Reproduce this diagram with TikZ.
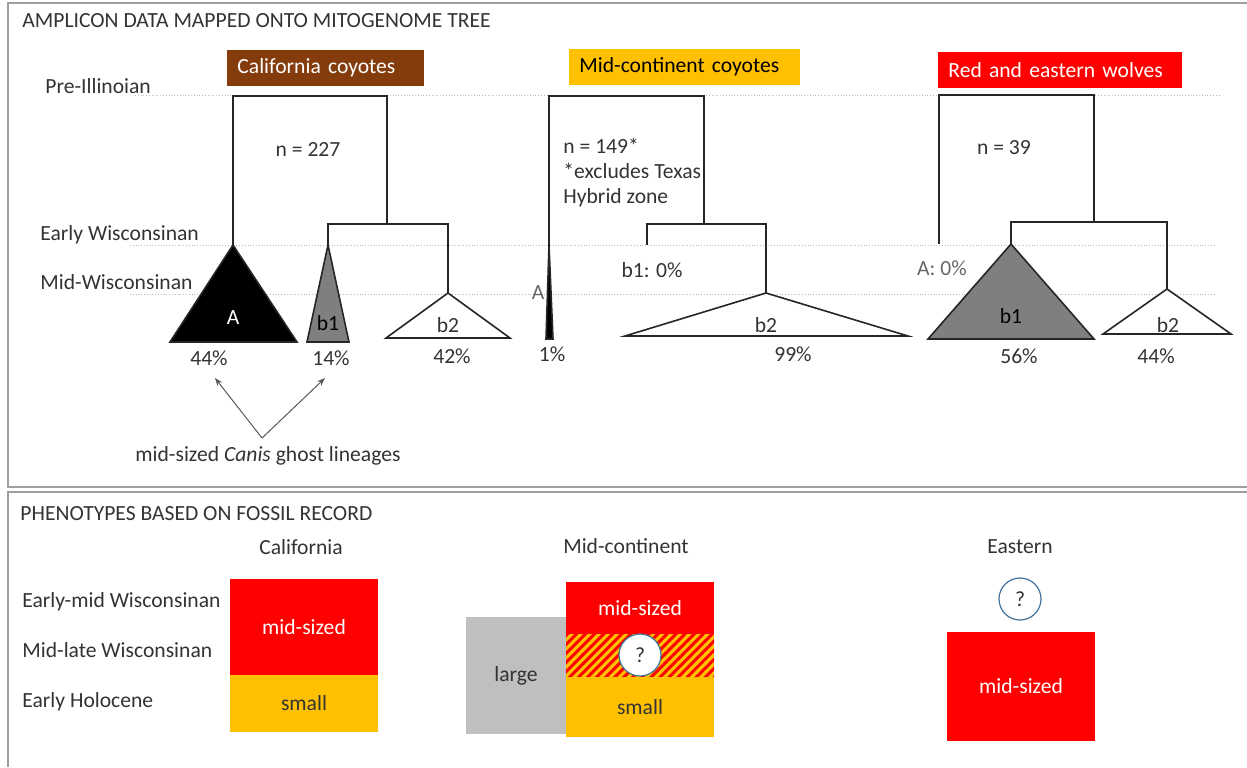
\documentclass[tikz,border=0pt]{standalone}
\usepackage{fontspec}
\setmainfont{Carlito}
\usepackage{xcolor}
\usepackage{tikz}
\usetikzlibrary{positioning, arrows.meta, patterns.meta}
\definecolor{brownhead}{HTML}{843C0C}
\definecolor{goldbox}{HTML}{FFC000}
\definecolor{redbox}{HTML}{FF0000}
\definecolor{largebox}{HTML}{BFBFBF}
\definecolor{cladegray}{HTML}{7F7F7F}
\definecolor{ringblue}{HTML}{41719C}
\definecolor{txt}{HTML}{333333}

\begin{document}
\begin{tikzpicture}[x=0.5pt,y=-0.5pt,font=\fontsize{10.8}{12.5}\selectfont]
					\tikzstyle{panel}=[draw=gray!75,line width=1.1pt]
					\tikzstyle{era}=[draw=gray!55,densely dotted,line width=0.4pt]
					\tikzstyle{branch}=[draw=black!85,line width=0.8pt]
					\tikzstyle{label}=[text=txt,inner sep=0pt]
					\tikzstyle{header}=[inner xsep=5pt,inner ysep=0pt,minimum height=18pt,align=left,anchor=west]
					\tikzstyle{sizebox}=[inner sep=0pt,text=txt]
					\tikzstyle{ring}=[circle,draw=ringblue,fill=white,line width=0.6pt,minimum size=21pt,inner sep=0pt,text=txt]
					\tikzstyle{ghostarrow}=[draw=gray!70!black,line width=0.5pt,-{Stealth[length=4pt,width=3pt]}]
					\useasboundingbox (0,0) rectangle (1247,767);

					\draw[panel] (1247,3) -- (8,3) -- (8,487) -- (1247,487);
					\draw[panel] (1247,492) -- (8,492) -- (8,767);
					\node[label,anchor=west](treetitle) at (22,21) {AMPLICON DATA MAPPED ONTO MITOGENOME TREE};
					\node[label,anchor=west](fossiltitle) at (20,514) {PHENOTYPES BASED ON FOSSIL RECORD};

					\draw[era] (135,95) -- (1220,95);
					\draw[era] (130,245) -- (1215,245);
					\draw[era] (130,294) -- (1215,294);
					\node[label,anchor=west](preill) at (45,86) {Pre-Illinoian};
					\node[label,anchor=west](earlywis) at (40,235) {Early Wisconsinan};
					\node[label,anchor=west](midwis) at (40,282) {Mid-Wisconsinan};

					\node[header,fill=brownhead,text=white,text width=88.5pt](calhead) at (227,68) {California coyotes};
					\node[header,fill=goldbox,text=black,text width=105.5pt](mchead) at (569,67) {Mid-continent coyotes};
					\node[header,fill=redbox,text=white,text width=112pt](redhead) at (938,70) {Red and eastern wolves};

					\coordinate (calTop) at (310,96);
					\coordinate (calSub) at (387,224);
					\coordinate (calA) at (233,245);
					\coordinate (calB1) at (328,245);
					\coordinate (calB2) at (448,293);
					\draw[branch] (calA) |- (calTop) -| (calSub);
					\draw[branch] (calB1) |- (calSub) -| (calB2);
					\filldraw[branch,fill=black] (calA) -- (170,342) -- (297,342) -- cycle;
					\filldraw[branch,fill=cladegray] (calB1) -- (307,342) -- (349,342) -- cycle;
					\filldraw[branch,fill=white] (calB2) -- (386,338) -- (510,338) -- cycle;
					\node[label,text=white](calAlab) at (233,318) {A};
					\node[label,text=black](calB1lab) at (328,323) {b1};
					\node[label](calB2lab) at (448,325) {b2};
					\node[label](calApc) at (209,358) {44\%};
					\node[label](calB1pc) at (331,358) {14\%};
					\node[label](calB2pc) at (452,356) {42\%};
					\node[label](caln) at (308,149) {n = 227};

					\node[label](ghost) at (268,456) {mid-sized \textit{Canis} ghost lineages};
					\coordinate (ghostfoot) at (262,438);
					\coordinate (ghostA) at (215,378);
					\coordinate (ghostB) at (325,378);
					\draw[ghostarrow] (ghostfoot) -- (ghostA);
					\draw[ghostarrow] (ghostfoot) -- (ghostB);

					\coordinate (mcTop) at (630,96);
					\coordinate (mcSub) at (704,224);
					\coordinate (mcA) at (549,245);
					\coordinate (mcB1) at (647,245);
					\coordinate (mcB2) at (766,293);
					\draw[branch] (mcA) |- (mcTop) -| (mcSub);
					\draw[branch] (mcB1) |- (mcSub) -| (mcB2);
					\filldraw[branch,fill=black] (mcA) -- (546,339) -- (553,339) -- cycle;
					\filldraw[branch,fill=white] (mcB2) -- (625,336) -- (908,336) -- cycle;
					\node[label,text=gray!80!black](mcAlab) at (538,293) {A};
					\node[label](mcB1lab) at (652,270) {b1: 0\%};
					\node[label](mcB2lab) at (766,325) {b2};
					\node[label](mcApc) at (552,354) {1\%};
					\node[label](mcB2pc) at (793,354) {99\%};
					\node[label,anchor=west,align=left](mcn) at (563,173) {n = 149*\\[0pt]*excludes Texas\\[0pt]Hybrid zone};

					\coordinate (redTop) at (1015,95);
					\coordinate (redSub) at (1094,222);
					\coordinate (redA) at (939,244);
					\coordinate (redB1) at (1011,244);
					\coordinate (redB2) at (1167,289);
					\draw[branch] (redA) |- (redTop) -| (redSub);
					\draw[branch] (redB1) |- (redSub) -| (redB2);
					\filldraw[branch,fill=cladegray] (redB1) -- (928,339) -- (1094,339) -- cycle;
					\filldraw[branch,fill=white] (redB2) -- (1103,334) -- (1231,334) -- cycle;
					\node[label,text=gray!80!black](redAlab) at (942,268) {A: 0\%};
					\node[label,text=black](redB1lab) at (1011,316) {b1};
					\node[label](redB2lab) at (1168,325) {b2};
					\node[label](redB1pc) at (1019,356) {56\%};
					\node[label](redB2pc) at (1156,356) {44\%};
					\node[label](redn) at (1004,148) {n = 39};

					\node[label](calcol) at (301,547) {California};
					\node[label](mccol) at (626,546) {Mid-continent};
					\node[label](eastcol) at (1020,547) {Eastern};
					\node[label,anchor=west](earlymid) at (22,602) {Early-mid Wisconsinan};
					\node[label,anchor=west](midlate) at (22,650) {Mid-late Wisconsinan};
					\node[label,anchor=west](holocene) at (22,702) {Early Holocene};

					\node[sizebox,fill=redbox,text=white,minimum width=74pt,minimum height=48pt](calmid) at (304,627) {mid-sized};
					\node[sizebox,fill=goldbox,minimum width=74pt,minimum height=28.5pt](calsmall) at (304,703.5) {small};

					\node[sizebox,fill=largebox,minimum width=50pt,minimum height=58.5pt](mclarge) at (516,675.5) {large};
					\node[sizebox,fill=redbox,text=white,minimum width=74pt,minimum height=26pt](mcmid) at (640,608) {mid-sized};
					\node[sizebox,fill=goldbox,minimum width=74pt,minimum height=21.5pt,postaction={pattern={Lines[angle=45,distance=3.2pt,line width=1.5pt]},pattern color=redbox}](mchatch) at (640,655.5) {};
					\node[sizebox,fill=goldbox,minimum width=74pt,minimum height=30pt](mcsmall) at (640,707) {small};
					\node[ring](mcquery) at (640,655) {?};

					\node[ring](eastquery) at (1020,599) {?};
					\node[sizebox,fill=redbox,text=white,minimum width=74pt,minimum height=54.5pt](eastmid) at (1021,686.5) {mid-sized};
				\end{tikzpicture}
\end{document}
